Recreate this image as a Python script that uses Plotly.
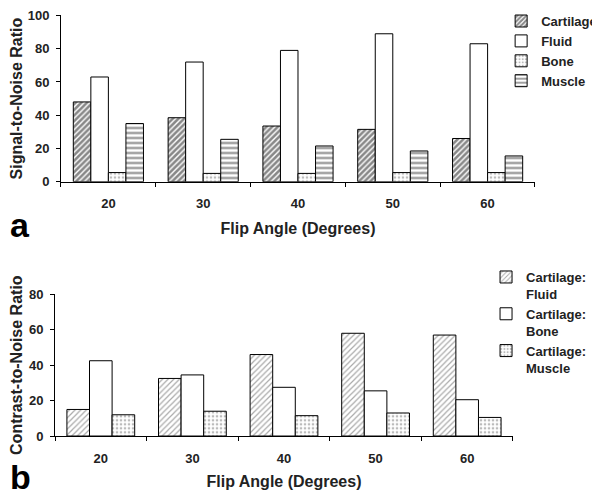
import plotly.graph_objects as go

angles = ["20", "30", "40", "50", "60"]

# Panel a: Signal-to-Noise Ratio
snr_cartilage = [48, 38.5, 33.5, 31.5, 26]
snr_fluid = [63, 72, 79, 89, 83]
snr_bone = [5.5, 5, 5, 5.5, 5.5]
snr_muscle = [35, 25.5, 21.5, 18.5, 15.5]

# Panel b: Contrast-to-Noise Ratio
cnr_fluid = [15, 32.5, 46, 58, 57]
cnr_bone = [42.5, 34.5, 27.5, 25.5, 20.5]
cnr_muscle = [12, 14, 11.5, 13, 10.5]

FONT = "Liberation Sans"
TXT = "#222222"
line = dict(color="black", width=1)

fig = go.Figure()

fig.add_trace(go.Bar(x=angles, y=snr_cartilage, name="<b>Cartilage</b>", xaxis="x", yaxis="y",
                     marker=dict(color="white", line=line,
                                 pattern=dict(shape="/", fgcolor="#111111", bgcolor="white", size=4, solidity=0.65)),
                     legend="legend"))
fig.add_trace(go.Bar(x=angles, y=snr_fluid, name="<b>Fluid</b>", xaxis="x", yaxis="y",
                     marker=dict(color="white", line=line), legend="legend"))
fig.add_trace(go.Bar(x=angles, y=snr_bone, name="<b>Bone</b>", xaxis="x", yaxis="y",
                     marker=dict(color="white", line=line,
                                 pattern=dict(shape=".", fgcolor="#777777", bgcolor="white", size=4, solidity=0.35)),
                     legend="legend"))
fig.add_trace(go.Bar(x=angles, y=snr_muscle, name="<b>Muscle</b>", xaxis="x", yaxis="y",
                     marker=dict(color="white", line=line,
                                 pattern=dict(shape="-", fgcolor="#111111", bgcolor="white", size=5, solidity=0.4)),
                     legend="legend"))

fig.add_trace(go.Bar(x=angles, y=cnr_fluid, name="<b>Cartilage:<br>Fluid</b>", xaxis="x2", yaxis="y2",
                     marker=dict(color="white", line=line,
                                 pattern=dict(shape="/", fgcolor="#555555", bgcolor="white", size=4, solidity=0.3)),
                     legend="legend2"))
fig.add_trace(go.Bar(x=angles, y=cnr_bone, name="<b>Cartilage:<br>Bone</b>", xaxis="x2", yaxis="y2",
                     marker=dict(color="white", line=line), legend="legend2"))
fig.add_trace(go.Bar(x=angles, y=cnr_muscle, name="<b>Cartilage:<br>Muscle</b>", xaxis="x2", yaxis="y2",
                     marker=dict(color="white", line=line,
                                 pattern=dict(shape=".", fgcolor="#777777", bgcolor="white", size=4, solidity=0.35)),
                     legend="legend2"))

axis_common = dict(showline=True, linecolor="black", linewidth=1, showgrid=False, zeroline=False,
                   ticks="outside", tickcolor="black", ticklen=4, automargin=False,
                   ticklabeloverflow="allow",
                   tickfont=dict(family=FONT, size=13, color=TXT))
title_font = dict(family=FONT, size=16, color=TXT)

fig.update_layout(
    width=592, height=487,
    margin=dict(l=0, r=0, t=0, b=0, autoexpand=False),
    paper_bgcolor="white", plot_bgcolor="white",
    barmode="group", bargap=0.26, bargroupgap=0,
    font=dict(family=FONT, color=TXT),
    xaxis=dict(domain=[0.0895, 0.8902], anchor="y", type="category", tickson="boundaries",
               ticklabelstandoff=10,
               title=dict(text="<b>Flip Angle (Degrees)</b>", font=title_font, standoff=12),
               tickprefix="<b>", ticksuffix="</b>", **axis_common),
    yaxis=dict(domain=[0.6433, 0.9846], anchor="x", range=[0, 100], dtick=20,
               ticklabelstandoff=4,
               title=dict(text="<b>Signal-to-Noise Ratio</b>", font=title_font, standoff=8),
               tickprefix="<b>", ticksuffix="</b>", **axis_common),
    xaxis2=dict(domain=[0.0794, 0.8530], anchor="y2", type="category", tickson="boundaries",
                ticklabelstandoff=10,
                title=dict(text="<b>Flip Angle (Degrees)</b>", font=title_font, standoff=11),
                tickprefix="<b>", ticksuffix="</b>", **axis_common),
    yaxis2=dict(domain=[0.1211, 0.4121], anchor="x2", range=[0, 80], dtick=20,
                ticklabelstandoff=4,
                title=dict(text="<b>Contrast-to-Noise Ratio</b>", font=title_font, standoff=7),
                tickprefix="<b>", ticksuffix="</b>", **axis_common),
    legend=dict(x=0.833, y=1.004, xanchor="left", yanchor="top", itemwidth=30, tracegroupgap=0,
                font=dict(family=FONT, size=13, color=TXT), bgcolor="rgba(0,0,0,0)"),
    legend2=dict(x=0.8075, y=0.4784, xanchor="left", yanchor="top", itemwidth=30, tracegroupgap=0,
                 valign="top",
                 font=dict(family=FONT, size=13, color=TXT), bgcolor="rgba(0,0,0,0)"),
    annotations=[
        dict(text="<b>a</b>", x=0, y=0.5544, xref="paper", yref="paper", xanchor="left", yanchor="middle",
             showarrow=False, font=dict(family=FONT, size=34, color="black")),
        dict(text="<b>b</b>", x=0, y=0.036, xref="paper", yref="paper", xanchor="left", yanchor="middle",
             showarrow=False, font=dict(family=FONT, size=34, color="black")),
    ],
)

fig.write_html("out.html")
